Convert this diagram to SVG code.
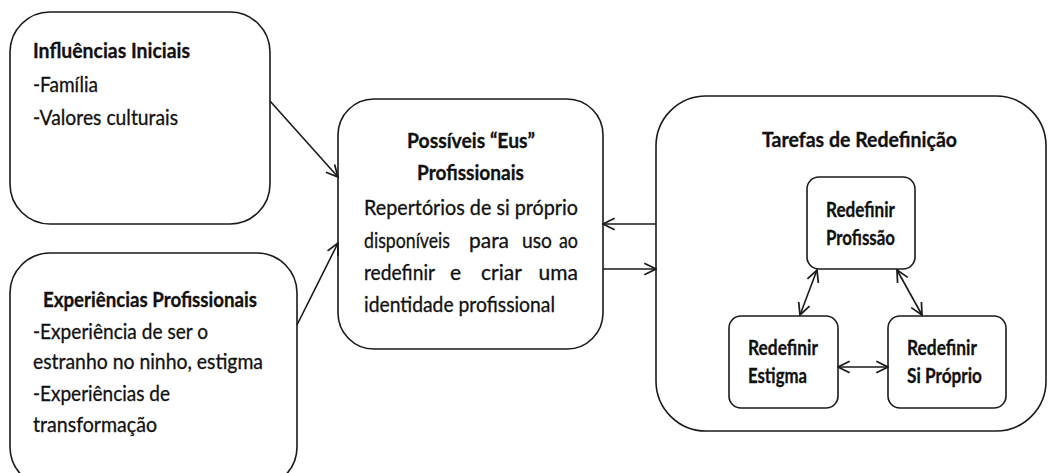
<svg xmlns="http://www.w3.org/2000/svg" width="1050" height="473" viewBox="0 0 1050 473">
<style>
.box{fill:#fff;stroke:#1a1a1a;stroke-width:1.6}
.t{font-family:Lato,"Open Sans","Liberation Sans",sans-serif;font-size:21px;fill:#111;stroke:#111;stroke-width:0.3}
.b{font-weight:bold}
.e{text-anchor:end}
.ln{fill:none;stroke:#1a1a1a;stroke-width:1.6}
</style>
<defs>
<marker id="ah" markerUnits="userSpaceOnUse" markerWidth="14" markerHeight="14" viewBox="0 0 12 12" refX="11" refY="6" orient="auto-start-reverse">
<path d="M1,1 L11,6 L1,11" fill="none" stroke="#1a1a1a" stroke-width="1.5"/>
</marker>
</defs>
<rect width="1050" height="473" fill="#fff"/>
<g id="influencias">
<rect class="box" x="10" y="12" width="260" height="212" rx="40"/>
<text class="t b" x="33" y="58" textLength="157" lengthAdjust="spacingAndGlyphs">Influências Iniciais</text>
<text class="t" x="33" y="92" textLength="65" lengthAdjust="spacingAndGlyphs">-Família</text>
<text class="t" x="33" y="125" textLength="145" lengthAdjust="spacingAndGlyphs">-Valores culturais</text>
</g>
<g id="experiencias">
<rect class="box" x="10" y="253" width="287" height="234" rx="40"/>
<text class="t b" x="43" y="307" textLength="214" lengthAdjust="spacingAndGlyphs">Experiências Profissionais</text>
<text class="t" x="33" y="339" textLength="175" lengthAdjust="spacingAndGlyphs">-Experiência de ser o</text>
<text class="t" x="33" y="369" textLength="230" lengthAdjust="spacingAndGlyphs">estranho no ninho, estigma</text>
<text class="t" x="33" y="401" textLength="137" lengthAdjust="spacingAndGlyphs">-Experiências de</text>
<text class="t" x="33" y="432" textLength="124" lengthAdjust="spacingAndGlyphs">transformação</text>
</g>
<g id="possiveis">
<rect class="box" x="338" y="99" width="265" height="250" rx="36"/>
<text class="t b" x="407" y="148" textLength="128" lengthAdjust="spacingAndGlyphs">Possíveis “Eus”</text>
<text class="t b" x="417" y="180" textLength="107" lengthAdjust="spacingAndGlyphs">Profissionais</text>
<text class="t" x="364" y="215" textLength="214" lengthAdjust="spacingAndGlyphs">Repertórios de si próprio</text>
<text class="t" x="364" y="248" textLength="86" lengthAdjust="spacingAndGlyphs">disponíveis</text>
<text class="t" x="469" y="248" textLength="40" lengthAdjust="spacingAndGlyphs">para</text>
<text class="t" x="522" y="248" textLength="30" lengthAdjust="spacingAndGlyphs">uso</text>
<text class="t" x="559" y="248" textLength="19" lengthAdjust="spacingAndGlyphs">ao</text>
<text class="t" x="364" y="280" textLength="71" lengthAdjust="spacingAndGlyphs">redefinir</text>
<text class="t" x="450" y="280">e</text>
<text class="t" x="481" y="280">criar</text>
<text class="t e" x="578" y="280">uma</text>
<text class="t" x="364" y="312" textLength="191" lengthAdjust="spacingAndGlyphs">identidade profissional</text>
</g>
<g id="tarefas">
<rect class="box" x="656" y="96" width="390" height="335" rx="50"/>
<text class="t b" x="762" y="147" textLength="195" lengthAdjust="spacingAndGlyphs">Tarefas de Redefinição</text>
</g>
<g id="profissao">
<rect class="box" x="807" y="177" width="108" height="92" rx="12"/>
<text class="t b" x="826" y="217" textLength="69" lengthAdjust="spacingAndGlyphs">Redefinir</text>
<text class="t b" x="826" y="245" textLength="69" lengthAdjust="spacingAndGlyphs">Profissão</text>
</g>
<g id="estigma">
<rect class="box" x="729" y="316" width="109" height="92" rx="12"/>
<text class="t b" x="748" y="355" textLength="70" lengthAdjust="spacingAndGlyphs">Redefinir</text>
<text class="t b" x="748" y="383" textLength="59" lengthAdjust="spacingAndGlyphs">Estigma</text>
</g>
<g id="siproprio">
<rect class="box" x="888" y="316" width="118" height="92" rx="12"/>
<text class="t b" x="907" y="355" textLength="70" lengthAdjust="spacingAndGlyphs">Redefinir</text>
<text class="t b" x="907" y="383" textLength="75" lengthAdjust="spacingAndGlyphs">Si Próprio</text>
</g>
<g id="connectors">
<line class="ln" x1="270" y1="101" x2="338" y2="177" marker-end="url(#ah)"/>
<line class="ln" x1="297" y1="325" x2="338" y2="243" marker-end="url(#ah)"/>
<line class="ln" x1="656" y1="224" x2="603" y2="224" marker-end="url(#ah)"/>
<line class="ln" x1="603" y1="269" x2="656" y2="269" marker-end="url(#ah)"/>
<line class="ln" x1="817" y1="270" x2="800" y2="315" marker-start="url(#ah)" marker-end="url(#ah)"/>
<line class="ln" x1="897" y1="270" x2="922" y2="315" marker-start="url(#ah)" marker-end="url(#ah)"/>
<line class="ln" x1="838" y1="367" x2="888" y2="367" marker-start="url(#ah)" marker-end="url(#ah)"/>
</g>
</svg>
